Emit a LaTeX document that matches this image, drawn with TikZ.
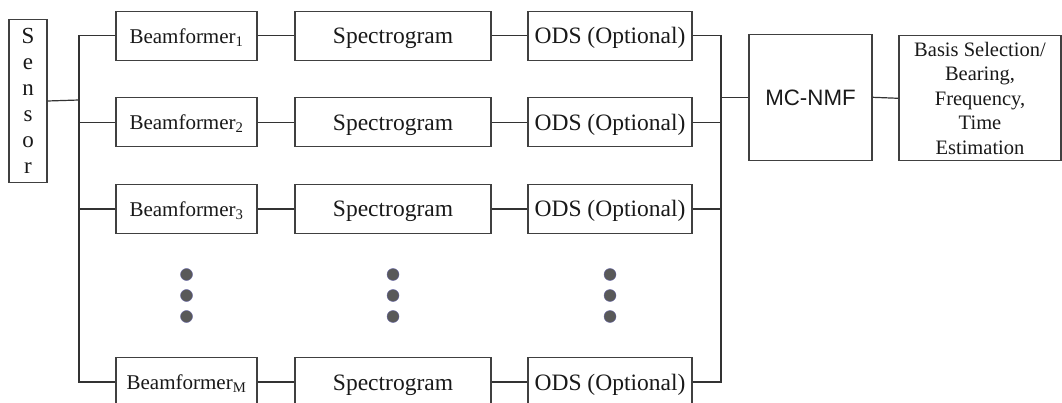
\documentclass[tikz,border=0pt]{standalone}
\usepackage{fontspec}
\setmainfont{Liberation Serif}
\newfontfamily\sansf{Liberation Sans}
\begin{document}
\begin{tikzpicture}[x=1pt,y=-1pt,
  box/.style={draw=black!75,line width=1.1pt,inner sep=0pt,text=black!90},
  stage/.style={box,minimum height=49pt,text depth=0pt},
  bfbox/.style={stage,minimum width=141pt,text height=15pt,font=\fontsize{21}{24}\selectfont},
  spbox/.style={stage,minimum width=196pt,text height=16pt,font=\fontsize{23.5}{26}\selectfont},
  odsbox/.style={stage,minimum width=164pt,text height=16pt,font=\fontsize{23.5}{26}\selectfont},
  wire/.style={draw=black!80,line width=1.2pt},
  dot/.style={fill=black!65,draw=blue!40!black!60,line width=0.4pt}]
\useasboundingbox (0,0) rectangle (1062,403);
\clip (0,0) rectangle (1062,403);
\fill[white] (0,0) rectangle (1062,403);

% input sensor
\node[box,minimum width=38pt,minimum height=163pt,align=center,
      font=\fontsize{23}{26}\selectfont] (sensor) at (28,101) {S\\e\\n\\s\\o\\r};

% beamformer branches
\node[bfbox]  (bf1)  at (186.5,35.8)  {Beamformer\textsubscript{1}};
\node[bfbox]  (bf2)  at (186.5,122.3) {Beamformer\textsubscript{2}};
\node[bfbox]  (bf3)  at (186.5,209)   {Beamformer\textsubscript{3}};
\node[bfbox]  (bfM)  at (186.5,382)   {Beamformer\textsubscript{M}};

\node[spbox]  (sp1)  at (393,35.8)  {Spectrogram};
\node[spbox]  (sp2)  at (393,122.3) {Spectrogram};
\node[spbox]  (sp3)  at (393,209)   {Spectrogram};
\node[spbox]  (spM)  at (393,382)   {Spectrogram};

\node[odsbox] (ods1) at (610,35.8)  {ODS (Optional)};
\node[odsbox] (ods2) at (610,122.3) {ODS (Optional)};
\node[odsbox] (ods3) at (610,209)   {ODS (Optional)};
\node[odsbox] (odsM) at (610,382)   {ODS (Optional)};

% fusion and estimation
\node[box,minimum width=123pt,minimum height=126pt,text height=16pt,text depth=0pt,
      font=\sansf\fontsize{22.3}{26}\selectfont] (mcnmf) at (810.5,97.3) {MC-NMF};
\node[box,minimum width=162pt,minimum height=125pt,align=center,
      font=\fontsize{20.5}{24.5}\selectfont] (est) at (980,98.3)
      {Basis Selection/\\Bearing,\\Frequency,\\Time\\Estimation};

% junctions of the split and merge buses
\coordinate (jL) at (79,100);
\coordinate (jR) at (721,97.3);

\draw[wire] (sensor.east) -- (jL);
\foreach \r in {1,2,3,M}{
  \draw[wire] (bf\r.west) -| (jL);
  \draw[wire] (bf\r.east) -- (sp\r.west);
  \draw[wire] (sp\r.east) -- (ods\r.west);
  \draw[wire] (ods\r.east) -| (jR);
}
\draw[wire] (jR) -- (mcnmf.west);
\draw[wire] (mcnmf.east) -- (est.west);

% ellipsis between branch 3 and branch M
\foreach \x in {186.5,393,610}
  \foreach \y in {274.5,295.5,316.5}
    \path[dot] (\x,\y) circle (6pt);
\end{tikzpicture}
\end{document}
